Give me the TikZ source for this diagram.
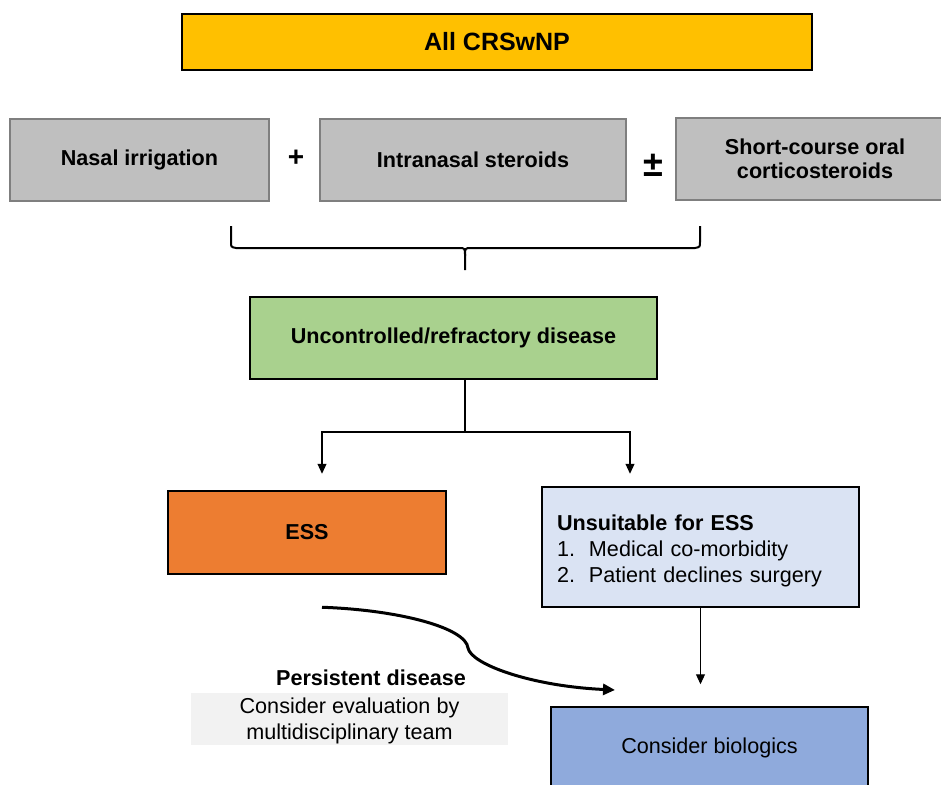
\documentclass[tikz,border=0pt]{standalone}
\usepackage{fontspec}
\setmainfont{Liberation Sans}
\usetikzlibrary{arrows.meta}
\definecolor{allfill}{HTML}{FFC000}
\definecolor{greyfill}{HTML}{BFBFBF}
\definecolor{greyline}{HTML}{7F7F7F}
\definecolor{greenfill}{HTML}{A9D18E}
\definecolor{essfill}{HTML}{ED7D31}
\definecolor{paleblue}{HTML}{DAE3F3}
\definecolor{biofill}{HTML}{8FAADC}
\definecolor{mdtfill}{HTML}{F2F2F2}

\begin{document}
\begin{tikzpicture}[x=1pt,y=-1pt,
  txt/.style={font=\fontsize{21.6}{26}\selectfont},
  btxt/.style={font=\fontsize{21.6}{26}\selectfont\bfseries},
  blackbox/.style={draw=black, line width=2.5pt, minimum height=82pt, inner sep=0pt, align=center},
  greybox/.style={draw=greyline, fill=greyfill, line width=2.5pt, minimum height=82pt, inner sep=0pt, align=center, btxt},
  thinarrow/.style={line width=1.1pt, -{Triangle[length=10pt,width=9pt]}},
  thickarrow/.style={line width=3pt, -{Triangle[length=12pt,width=11pt]}}]
\useasboundingbox (0,0) rectangle (941,784);
\clip (0,0) rectangle (941,784);

\node[blackbox, fill=allfill, minimum width=630pt, minimum height=56pt, font=\fontsize{25}{30}\selectfont\bfseries] (all) at (497,42) {All CRSwNP};

\node[greybox, minimum width=259pt] (irrig) at (139.5,160) {Nasal irrigation};
\node[greybox, minimum width=306pt] (ins) at (473,160) {Intranasal steroids};
\node[greybox, minimum width=278pt, font=\fontsize{21.6}{24}\selectfont\bfseries] (ocs) at (815,159) {Short-course oral\\corticosteroids};
\node[font=\fontsize{28}{30}\selectfont\bfseries] (plus) at (296,158) {+};
\node[font=\fontsize{36}{38}\selectfont\bfseries] (pm) at (653,165) {±};

\draw[line width=2pt] (231,226) -- (231,242) .. controls (231,247) .. (236,248) -- (459,248)
  .. controls (465,248) .. (465,256) -- (465,270);
\draw[line width=2pt] (700,226) -- (700,242) .. controls (700,247) .. (695,248) -- (471,248)
  .. controls (465,248) .. (465,256);

\node[blackbox, fill=greenfill, minimum width=407pt, btxt] (unc) at (453.5,338) {Uncontrolled/refractory disease};

\coordinate (split) at (465,432);
\draw[line width=1.1pt] (split |- unc.south) -- (split);
\node[blackbox, fill=essfill, minimum width=278pt, minimum height=83pt, btxt] (ess) at (307,532.5) {ESS};
\node[blackbox, fill=paleblue, minimum height=120pt, text width=287pt, inner xsep=15pt, align=left, txt] (unsuit) at (700.5,547)
  {\rule{0pt}{24pt}\textbf{Unsuitable for ESS}\\\makebox[32pt][l]{1.}Medical co-morbidity\\\makebox[32pt][l]{2.}Patient declines surgery};
\draw[thinarrow] (split) -| ([xshift=15pt,yshift=16pt]ess.north);
\draw[thinarrow] (split) -| ([xshift=-70.5pt,yshift=12pt]unsuit.north);

\node[blackbox, fill=biofill, minimum width=317pt, txt] (bio) at (709.5,748) {Consider biologics};
\draw[thinarrow] (unsuit.south) -- ++(0,76);

\node[btxt] (persist) at (371,678) {Persistent disease};
\node[fill=mdtfill, minimum width=317pt, minimum height=52pt, inner sep=0pt, align=center, txt] (mdt) at (349.5,719)
  {\rule{0pt}{19pt}Consider evaluation by\\multidisciplinary team};

\coordinate (curvein) at (615,690);
\draw[thickarrow] ([xshift=15pt,yshift=-32pt]ess.south) .. controls (400,610) and (466,628) .. (468,648)
  .. controls (471,664) and (530,686) .. (curvein);
\end{tikzpicture}
\end{document}
